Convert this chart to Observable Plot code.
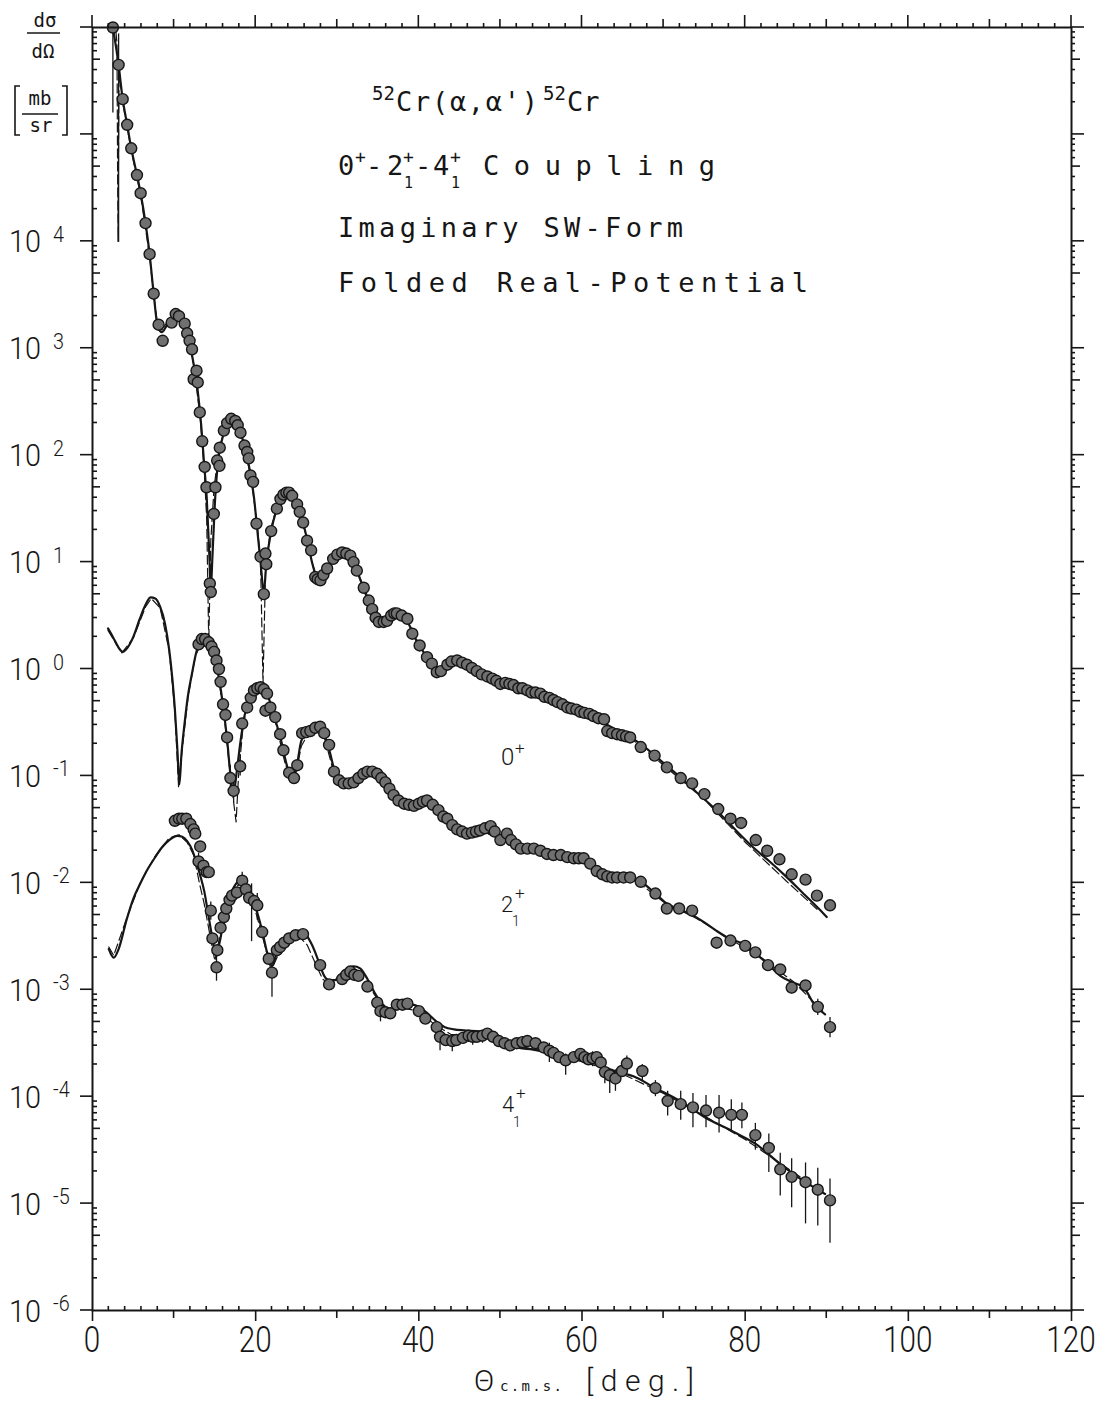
<!DOCTYPE html>
<html><head><meta charset="utf-8">
<script src="https://cdn.jsdelivr.net/npm/d3@7"></script>
<script src="https://cdn.jsdelivr.net/npm/@observablehq/plot@0.6"></script>
<style>body{margin:0;background:#fff}</style>
</head><body><div id="chart"></div>
<script>
// ---------- tick labels ----------
const xTickLabels = [0, 20, 40, 60, 80, 100, 120];
const yLabelExps = [-6, -5, -4, -3, -2, -1, 0, 1, 2, 3, 4];

// ---------- experimental points: [theta, log10(dσ/dΩ)] ----------
const pts0 = [[2.5,6.0],[3.2,5.65],[3.7,5.33],[4.25,5.09],[4.75,4.87],[5.45,4.62],[5.9,4.45],[6.5,4.17],[7.0,3.88],[7.5,3.51],[8.1,3.22],[8.6,3.07],[9.7,3.24],[10.2,3.32],[10.6,3.30],[11.3,3.23],[11.6,3.14],[11.9,3.07],[12.2,2.99],[12.4,2.71],[12.75,2.79],[12.9,2.68],[13.15,2.40],[13.45,2.13],[13.75,1.89],[13.97,1.70],[14.38,0.80],[14.5,0.72],[14.87,1.45],[15.07,1.70],[15.28,1.95],[15.56,1.90],[15.6,2.07],[16.1,2.23],[16.5,2.30],[17.0,2.34],[17.5,2.32],[17.8,2.28],[18.14,2.21],[18.63,2.09],[18.96,2.03],[19.15,1.97],[19.36,1.81],[19.68,1.75],[20.1,1.36],[20.6,1.05],[21.0,0.70],[21.2,1.08],[21.3,0.98],[21.9,1.29],[22.6,1.50],[23.04,1.59],[23.4,1.63],[23.77,1.65],[24.1,1.65],[24.47,1.62],[25.08,1.54],[25.4,1.47],[25.82,1.37],[26.3,1.20],[26.8,1.11],[27.3,0.86],[27.6,0.84],[27.94,0.83],[28.3,0.88],[28.76,0.94],[29.5,1.03],[30.0,1.07],[30.6,1.09],[31.1,1.08],[31.6,1.06],[32.0,1.0],[32.4,0.92],[33.25,0.76],[33.86,0.64],[34.28,0.56],[34.7,0.48],[35.1,0.44],[35.7,0.44],[36.1,0.45],[36.6,0.50],[37.0,0.52],[37.3,0.52],[37.9,0.50],[38.6,0.47],[39.2,0.33],[40.1,0.22],[41.0,0.11],[41.6,0.05],[42.2,-0.03],[42.7,-0.02],[43.5,0.04],[44.0,0.07],[44.7,0.08],[45.3,0.06],[45.9,0.04],[46.5,0.01],[47.1,-0.02],[47.7,-0.05],[48.4,-0.07],[49.0,-0.09],[49.5,-0.11],[50.0,-0.14],[50.6,-0.13],[51.1,-0.14],[51.6,-0.15],[52.2,-0.18],[52.7,-0.18],[53.3,-0.20],[53.8,-0.22],[54.3,-0.22],[54.9,-0.23],[55.4,-0.26],[56.0,-0.27],[56.5,-0.29],[57.0,-0.31],[57.6,-0.33],[58.2,-0.36],[58.7,-0.37],[59.3,-0.38],[59.8,-0.40],[60.3,-0.41],[60.9,-0.42],[61.4,-0.44],[62.0,-0.46],[62.7,-0.47],[63.1,-0.58],[63.7,-0.60],[64.3,-0.61],[64.9,-0.62],[65.4,-0.63],[65.9,-0.64],[67.2,-0.73],[68.9,-0.81],[70.4,-0.92],[72.1,-1.02],[73.5,-1.07],[75.0,-1.17],[76.7,-1.31],[78.2,-1.40],[79.5,-1.44],[81.3,-1.60],[82.7,-1.70],[84.2,-1.78],[85.7,-1.92],[87.4,-1.97],[88.8,-2.12],[90.4,-2.21]];

const pts2 = [[13.0,0.23],[13.4,0.28],[13.8,0.28],[14.25,0.25],[14.6,0.21],[14.9,0.16],[15.2,0.08],[15.5,0.0],[15.7,-0.12],[16.0,-0.33],[16.3,-0.43],[16.5,-0.64],[16.9,-1.02],[17.3,-1.14],[18.1,-0.91],[18.35,-0.51],[18.96,-0.36],[19.4,-0.27],[19.8,-0.20],[20.2,-0.18],[20.6,-0.17],[21.0,-0.19],[21.4,-0.23],[21.2,-0.39],[21.8,-0.36],[22.4,-0.45],[23.0,-0.61],[23.4,-0.76],[24.1,-0.97],[24.7,-1.02],[25.1,-0.90],[25.7,-0.60],[26.2,-0.59],[26.7,-0.58],[27.3,-0.55],[27.9,-0.54],[28.4,-0.60],[29.0,-0.71],[29.6,-0.96],[30.2,-1.04],[30.8,-1.07],[31.4,-1.07],[32.0,-1.06],[32.6,-1.02],[33.2,-0.98],[33.7,-0.96],[34.3,-0.96],[34.9,-0.98],[35.4,-1.02],[35.9,-1.06],[36.4,-1.12],[36.9,-1.18],[37.5,-1.23],[38.2,-1.26],[38.8,-1.27],[39.4,-1.28],[40.0,-1.26],[40.5,-1.24],[41.0,-1.23],[41.7,-1.27],[42.4,-1.32],[43.0,-1.38],[43.5,-1.40],[44.1,-1.46],[44.7,-1.50],[45.3,-1.52],[45.9,-1.54],[46.5,-1.53],[47.0,-1.52],[47.5,-1.51],[48.1,-1.49],[48.8,-1.47],[49.3,-1.52],[50.0,-1.60],[50.8,-1.54],[51.3,-1.60],[51.9,-1.64],[52.5,-1.68],[53.3,-1.68],[54.1,-1.68],[54.9,-1.70],[55.7,-1.73],[56.5,-1.74],[57.4,-1.74],[58.2,-1.76],[59.0,-1.77],[59.6,-1.77],[60.2,-1.77],[61.0,-1.82],[61.8,-1.89],[62.5,-1.92],[63.1,-1.94],[63.7,-1.95],[64.3,-1.95],[65.1,-1.95],[65.9,-1.95],[67.2,-1.99],[69.0,-2.10],[70.4,-2.24],[71.9,-2.24],[73.5,-2.26],[76.5,-2.56],[78.2,-2.54],[80.0,-2.59],[81.25,-2.65],[82.8,-2.77],[84.3,-2.81],[85.7,-2.98],[87.4,-2.96],[88.9,-3.16],[90.4,-3.35]];

const pts4 = [[10.1,-1.42],[10.6,-1.40],[11.0,-1.40],[11.5,-1.40],[12.0,-1.45],[12.4,-1.50],[12.6,-1.54],[13.0,-1.80],[13.2,-1.66],[13.6,-1.84],[14.0,-1.90],[14.25,-1.90],[14.5,-2.26],[14.7,-2.52],[15.2,-2.79],[15.3,-2.63],[15.7,-2.42],[16.1,-2.32],[16.4,-2.24],[16.8,-2.16],[17.1,-2.12],[17.7,-2.09],[18.35,-1.98],[18.8,-2.06],[19.2,-2.14],[19.8,-2.17],[20.2,-2.21],[20.8,-2.46],[21.6,-2.71],[22.0,-2.84],[22.6,-2.63],[23.0,-2.60],[23.5,-2.56],[24.1,-2.52],[24.9,-2.49],[25.8,-2.48],[27.9,-2.77],[29.0,-2.95],[30.6,-2.90],[31.1,-2.86],[31.6,-2.83],[32.1,-2.86],[32.6,-2.87],[33.7,-2.97],[34.9,-3.12],[35.3,-3.20],[35.9,-3.21],[36.5,-3.22],[37.3,-3.14],[38.0,-3.14],[38.6,-3.13],[40.0,-3.20],[40.8,-3.27],[42.2,-3.35],[42.6,-3.44],[43.3,-3.47],[44.1,-3.48],[44.6,-3.47],[45.4,-3.45],[46.1,-3.43],[46.6,-3.44],[47.1,-3.44],[47.8,-3.43],[48.4,-3.41],[49.1,-3.44],[49.8,-3.48],[50.5,-3.50],[51.2,-3.52],[52.0,-3.50],[52.7,-3.49],[53.3,-3.48],[54.3,-3.50],[55.3,-3.54],[56.0,-3.57],[56.5,-3.59],[57.2,-3.63],[58.0,-3.66],[59.0,-3.63],[59.8,-3.60],[60.3,-3.63],[60.8,-3.65],[61.3,-3.64],[61.8,-3.63],[62.3,-3.68],[62.8,-3.77],[63.4,-3.80],[64.1,-3.83],[64.9,-3.76],[65.5,-3.69],[67.4,-3.76],[69.0,-3.92],[70.5,-4.04],[72.1,-4.07],[73.6,-4.10],[75.2,-4.13],[76.8,-4.15],[78.3,-4.17],[79.6,-4.17],[81.25,-4.36],[82.9,-4.48],[84.3,-4.68],[85.7,-4.75],[87.4,-4.80],[88.9,-4.87],[90.4,-4.97]];

// ---------- error bars: [theta, log10 low, log10 high] ----------
const err0 = [[2.5,5.2,6.0],[3.2,3.99,5.94]];
const err2 = [[16.9,-1.15,-0.9],[17.3,-1.25,-1.0],[18.1,-1.0,-0.8],[82.8,-2.82,-2.72],[85.7,-3.04,-2.92],[88.9,-3.24,-3.09],[90.4,-3.45,-3.26]];
const err4 = [[13.0,-1.9,-1.72],[14.5,-2.35,-2.18],[15.2,-2.92,-2.65],[16.8,-2.25,-2.08],[18.35,-2.05,-1.9],[19.5,-2.55,-2.01],[20.2,-2.35,-2.1],[22.0,-3.07,-2.75],[35.3,-3.3,-3.12],[42.6,-3.57,-3.38],[44.1,-3.58,-3.42],[46.6,-3.52,-3.38],[47.8,-3.5,-3.38],[52.7,-3.56,-3.44],[56.0,-3.68,-3.5],[58.0,-3.8,-3.6],[60.3,-3.7,-3.57],[61.3,-3.72,-3.58],[62.8,-3.88,-3.72],[63.4,-3.97,-3.75],[64.1,-3.95,-3.75],[65.5,-3.76,-3.62],[67.4,-3.85,-3.7],[69.0,-4.0,-3.85],[70.5,-4.18,-3.95],[72.1,-4.22,-3.95],[73.6,-4.29,-3.97],[75.2,-4.29,-3.99],[76.8,-4.34,-3.99],[78.3,-4.32,-4.03],[79.6,-4.3,-4.06],[81.25,-4.5,-4.25],[82.9,-4.71,-4.35],[84.3,-4.93,-4.53],[85.7,-5.04,-4.58],[87.4,-5.19,-4.62],[88.9,-5.21,-4.67],[90.4,-5.37,-4.77]];

// ---------- theory, solid: [theta, log10] ----------
const th0 = [[2.45,6.02],[3.2,5.65],[3.7,5.33],[4.25,5.09],[4.75,4.87],[5.45,4.62],[5.9,4.45],[6.5,4.17],[7.0,3.88],[7.5,3.51],[8.0,3.2],[8.5,3.15],[9.0,3.2],[9.7,3.28],[10.2,3.32],[10.8,3.28],[11.3,3.2],[11.9,3.05],[12.4,2.85],[12.9,2.6],[13.3,2.3],[13.7,1.9],[14.0,1.6],[14.3,1.1],[14.5,0.75],[14.7,1.05],[15.0,1.55],[15.4,1.95],[15.8,2.12],[16.3,2.25],[17.0,2.34],[17.6,2.32],[18.2,2.2],[18.7,2.07],[19.3,1.85],[19.8,1.6],[20.2,1.3],[20.6,1.0],[21.0,0.72],[21.3,0.98],[21.9,1.29],[22.6,1.5],[23.1,1.6],[23.8,1.65],[24.5,1.62],[25.1,1.53],[25.8,1.37],[26.4,1.18],[26.9,1.0],[27.4,0.87],[27.9,0.83],[28.5,0.88],[29.2,0.98],[29.9,1.06],[30.6,1.09],[31.4,1.07],[32.2,0.96],[33.0,0.8],[33.8,0.64],[34.5,0.52],[35.2,0.44],[36.0,0.45],[36.8,0.5],[37.4,0.52],[38.2,0.49],[38.9,0.4],[39.6,0.28],[40.4,0.18],[41.2,0.08],[42.0,-0.02],[42.6,-0.02],[43.4,0.04],[44.3,0.08],[45.2,0.06],[46.3,0.02],[47.5,-0.04],[48.6,-0.08],[50.0,-0.13],[51.6,-0.16],[53.3,-0.2],[55.0,-0.24],[56.5,-0.29],[58.2,-0.35],[59.8,-0.4],[61.4,-0.44],[62.6,-0.5],[64,-0.56],[66,-0.64],[68,-0.75],[70,-0.88],[72,-1.01],[74,-1.15],[77,-1.36],[79,-1.52],[81,-1.67],[83,-1.8],[85,-1.94],[87,-2.09],[89,-2.24],[90,-2.32]];

const th2 = [[1.9,0.38],[2.5,0.3],[3.2,0.2],[3.7,0.16],[4.3,0.2],[5.0,0.3],[5.8,0.47],[6.5,0.6],[7.1,0.67],[7.7,0.66],[8.3,0.58],[8.9,0.42],[9.4,0.18],[9.8,-0.1],[10.1,-0.38],[10.4,-0.75],[10.65,-1.08],[10.9,-0.8],[11.3,-0.5],[11.7,-0.25],[12.2,-0.04],[12.7,0.15],[13.2,0.26],[13.6,0.28],[14.2,0.24],[14.8,0.14],[15.3,0.0],[15.7,-0.18],[16.1,-0.4],[16.5,-0.66],[16.9,-0.98],[17.3,-1.15],[17.7,-0.95],[18.1,-0.7],[18.6,-0.45],[19.2,-0.28],[19.9,-0.19],[20.6,-0.17],[21.3,-0.22],[21.9,-0.34],[22.5,-0.5],[23.0,-0.63],[23.5,-0.8],[24.0,-0.95],[24.5,-1.03],[25.0,-0.92],[25.6,-0.67],[26.4,-0.58],[27.3,-0.54],[27.9,-0.55],[28.5,-0.63],[29.1,-0.78],[29.7,-0.96],[30.3,-1.04],[31.0,-1.07],[32.0,-1.05],[32.9,-0.99],[33.7,-0.96],[34.5,-0.97],[35.3,-1.01],[36.1,-1.08],[36.9,-1.18],[37.7,-1.25],[38.7,-1.28],[39.7,-1.27],[40.6,-1.24],[41.5,-1.26],[42.4,-1.32],[43.3,-1.4],[44.3,-1.48],[45.3,-1.52],[46.5,-1.53],[47.7,-1.53],[49,-1.54],[50.5,-1.58],[52.5,-1.65],[54.5,-1.69],[56.5,-1.72],[58.5,-1.75],[60.5,-1.8],[62,-1.87],[63.5,-1.93],[65.5,-1.95],[67.2,-1.99],[69,-2.1],[70.5,-2.2],[72,-2.25],[73.5,-2.3],[75,-2.37],[76.5,-2.45],[78,-2.52],[80,-2.58],[81.25,-2.66],[82.8,-2.76],[84.3,-2.87],[85.8,-2.93],[87.2,-2.98],[88.4,-3.13],[89.8,-3.23]];

const th4 = [[2.0,-2.62],[2.6,-2.7],[3.2,-2.62],[4.2,-2.34],[5.0,-2.15],[5.9,-2.0],[6.7,-1.88],[7.6,-1.77],[8.5,-1.67],[9.4,-1.6],[10.4,-1.56],[11.0,-1.57],[11.6,-1.61],[12.2,-1.69],[12.7,-1.8],[13.2,-1.93],[13.7,-2.08],[14.2,-2.3],[14.7,-2.52],[15.2,-2.68],[15.6,-2.55],[16.1,-2.35],[16.7,-2.15],[17.4,-2.03],[18.2,-1.98],[18.9,-2.03],[19.6,-2.15],[20.2,-2.28],[20.8,-2.45],[21.4,-2.65],[22.0,-2.78],[22.6,-2.65],[23.2,-2.55],[24.2,-2.48],[25.3,-2.45],[26.1,-2.48],[26.9,-2.58],[27.7,-2.73],[28.4,-2.87],[29.0,-2.91],[29.7,-2.91],[30.4,-2.87],[31.2,-2.81],[32.0,-2.78],[32.8,-2.8],[33.7,-2.9],[34.6,-3.03],[35.5,-3.13],[36.4,-3.18],[37.2,-3.18],[38.2,-3.15],[39.2,-3.14],[40.2,-3.17],[41.2,-3.23],[42.2,-3.3],[43.2,-3.35],[44.3,-3.37],[45.5,-3.38],[47.5,-3.39],[50.0,-3.48],[52,-3.54],[54,-3.56],[56.5,-3.6],[59,-3.65],[61.5,-3.69],[64,-3.76],[66.3,-3.81],[69,-3.92],[72,-4.04],[75,-4.19],[78.6,-4.33],[81.25,-4.44],[84.3,-4.63],[87.2,-4.79],[89.8,-4.91]];

// ---------- theory, dashed: [theta, log10] ----------
const da0 = [[2.6,6.2],[3.0,5.85],[3.12,4.0],[3.25,5.6],[3.7,5.3],[4.75,4.85],[5.9,4.43],[7.0,3.86],[7.5,3.5],[8.0,3.2],[8.5,3.17],[9.2,3.25],[10.0,3.3],[10.8,3.27],[11.6,3.15],[12.4,2.85],[13.2,2.35],[13.7,1.85],[14.0,1.4],[14.25,0.25],[14.5,1.2],[14.9,1.7],[15.5,2.05],[16.3,2.27],[17.0,2.35],[17.8,2.3],[18.7,2.06],[19.5,1.75],[20.2,1.35],[20.6,1.0],[20.9,-0.14],[21.2,0.9],[21.8,1.3],[22.6,1.52],[23.8,1.66],[25.0,1.55],[26.0,1.3],[27.0,0.97],[27.8,0.82],[28.6,0.9],[29.8,1.05],[30.8,1.1],[32.0,1.0],[33.5,0.72],[35.0,0.45],[36.2,0.46],[37.4,0.53],[38.5,0.47],[40.0,0.23],[41.5,0.04],[42.5,-0.01],[44.0,0.07],[45.5,0.05],[48,-0.06],[52,-0.17],[56,-0.27],[60,-0.4],[63,-0.52],[66,-0.65],[70,-0.9],[75,-1.22],[80,-1.62],[85,-1.98],[89,-2.26]];

const da2 = [[1.9,0.36],[3.6,0.15],[5.0,0.29],[6.5,0.58],[7.2,0.66],[8.3,0.57],[9.4,0.17],[10.1,-0.4],[10.55,-1.1],[11.0,-0.75],[11.7,-0.27],[12.6,0.12],[13.5,0.27],[14.5,0.2],[15.4,-0.05],[16.2,-0.48],[16.9,-1.0],[17.6,-1.43],[17.9,-1.0],[18.5,-0.5],[19.3,-0.27],[20.5,-0.16],[21.5,-0.24],[22.5,-0.52],[23.6,-0.88],[24.4,-1.06],[25.0,-0.95],[25.6,-0.72],[26.5,-0.6],[27.5,-0.56],[28.5,-0.66],[29.5,-0.95],[30.5,-1.06],[32.0,-1.04],[33.8,-0.97],[35.5,-1.04],[37.5,-1.24],[39.5,-1.27],[41.0,-1.24],[43,-1.38],[45,-1.51],[48,-1.53],[52,-1.64],[56,-1.72],[60,-1.8],[64,-1.94],[67,-2.0],[70,-2.18],[74,-2.33],[78,-2.52],[82,-2.7],[86,-2.93],[89.5,-3.2]];

const da4 = [[2.0,-2.6],[2.6,-2.68],[4.2,-2.33],[5.9,-1.99],[7.6,-1.76],[9.4,-1.58],[10.6,-1.55],[11.6,-1.62],[12.4,-1.74],[13.1,-2.0],[13.7,-2.2],[14.3,-2.45],[15.0,-2.73],[15.6,-2.5],[16.4,-2.25],[17.3,-2.06],[18.2,-2.0],[19.2,-2.1],[20.1,-2.3],[21.0,-2.55],[21.9,-2.82],[22.6,-2.7],[23.3,-2.58],[24.3,-2.52],[25.3,-2.5],[26.3,-2.58],[27.3,-2.75],[28.2,-2.9],[29.0,-2.94],[30.0,-2.9],[31.0,-2.84],[32.0,-2.82],[33.0,-2.88],[34.0,-2.98],[35.2,-3.12],[36.5,-3.2],[38.0,-3.17],[40.0,-3.2],[42,-3.33],[44,-3.42],[47,-3.42],[50,-3.49],[55,-3.57],[60,-3.67],[65,-3.79],[70,-3.97],[75,-4.18],[80,-4.4],[85,-4.66],[89.6,-4.9]];

// ---------- build tables ----------
const toRows = (arr, s) => arr.map(([x, l]) => ({s, x, y: Math.pow(10, l)}));
const toErr = (arr, s) => arr.map(([x, lo, hi]) => ({s, x, y1: Math.pow(10, lo), y2: Math.pow(10, hi)}));
const points = [...toRows(pts0,"0+"), ...toRows(pts2,"2+"), ...toRows(pts4,"4+")];
const solid = [...toRows(th0,"0+"), ...toRows(th2,"2+"), ...toRows(th4,"4+")];
const dashed = [...toRows(da0,"0+"), ...toRows(da2,"2+"), ...toRows(da4,"4+")];
const errs = [...toErr(err0,"0+"), ...toErr(err2,"2+"), ...toErr(err4,"4+")];

const INK = "#161616";
const NUM = "Roboto,'DejaVu Sans',sans-serif";
const MONO = "'DejaVu Sans Mono',monospace";

const plot = Plot.plot({
  width: 1117, height: 1403,
  marginLeft: 92, marginRight: 46, marginTop: 27, marginBottom: 93,
  style: {background: "#fff", overflow: "visible"},
  x: {domain: [0, 120], axis: null},
  y: {type: "log", domain: [1e-6, 1e6], axis: null},
  marks: [
    Plot.line(dashed, {x: "x", y: "y", z: "s", stroke: INK, strokeWidth: 1.2, strokeDasharray: "9,4", clip: true}),
    Plot.line(solid, {x: "x", y: "y", z: "s", stroke: INK, strokeWidth: 2.2, curve: "monotone-x", clip: true}),
    Plot.ruleX(errs, {x: "x", y1: "y1", y2: "y2", stroke: INK, strokeWidth: 1.3, clip: true}),
    Plot.dot(points, {x: "x", y: "y", r: 5.5, fill: "#707070", stroke: INK, strokeWidth: 1.4}),
    Plot.frame({stroke: INK, strokeWidth: 2}),
    Plot.axisX(xTickLabels, {anchor: "bottom", tickSize: 11, tickFormat: () => "", stroke: INK, strokeWidth: 1.6, label: null})
  ]
});

const svg = d3.select(plot);
const sx = plot.scale("x"), sy = plot.scale("y");
const X = v => sx.apply(v), Y = v => sy.apply(v);
const xL = X(0), xR = X(120), yT = Y(1e6), yB = Y(1e-6);

// ---------- ticks ----------
const tg = svg.append("g").attr("stroke", INK).attr("stroke-width", 1.6);
const seg = (x1, y1, x2, y2) => tg.append("line").attr("x1", x1).attr("y1", y1).attr("x2", x2).attr("y2", y2);
for (let v = 0; v <= 120; v += 2) {
  const px = X(v);
  if (v % 20 === 0) { seg(px, yT, px, yT - 12); }
  else if (v % 10 === 0) { seg(px, yT, px, yT - 8); seg(px, yB, px, yB + 8); }
  else { seg(px, yT, px, yT - 4); seg(px, yB, px, yB - 4); }
}
for (let k = -6; k <= 6; k++) {
  for (let m = 1; m <= 9; m++) {
    const v = m * Math.pow(10, k);
    if (v > 1e6 * 1.0001) continue;
    const py = Y(v);
    if (m === 1) { seg(xL - 12, py, xL, py); seg(xR, py, xR + 13, py); }
    else if (m === 5) { seg(xL, py, xL + 8, py); seg(xR, py, xR + 9, py); }
    else { seg(xL, py, xL + 5, py); seg(xR, py, xR + 4, py); }
  }
}

// ---------- text helpers ----------
function T(x, y, s, size, family, o = {}) {
  const t = svg.append("text").attr("font-size", size)
    .attr("font-family", family).attr("fill", INK)
    .attr("text-anchor", o.anchor || "start").text(s);
  if (o.weight) t.attr("font-weight", o.weight);
  if (o.sx) t.attr("transform", `translate(${x},${y}) scale(${o.sx},1)`);
  else t.attr("x", x).attr("y", y);
  if (o.len) t.attr("textLength", o.len).attr("lengthAdjust", "spacing");
  return t;
}

// x tick labels
for (const v of xTickLabels) T(X(v), yB + 42, String(v), 37, NUM, {anchor: "middle", sx: 0.8, weight: 300});

// y tick labels
for (const k of yLabelExps) {
  const py = Y(Math.pow(10, k));
  T(9, py + 11.5, "10", 32, NUM, {sx: 0.9, weight: 300});
  T(53, py + 1, k < 0 ? "-" + (-k) : String(k), 22, NUM, {sx: 0.9, weight: 300});
}

// y axis unit label
T(45, 27, "dσ", 19, MONO, {anchor: "middle"});
tg.append("line").attr("x1", 27).attr("x2", 60).attr("y1", 33).attr("y2", 33);
T(43, 58, "dΩ", 19, MONO, {anchor: "middle"});
T(40, 105, "mb", 19, MONO, {anchor: "middle"});
tg.append("line").attr("x1", 22).attr("x2", 58).attr("y1", 114).attr("y2", 114);
T(41, 132, "sr", 19, MONO, {anchor: "middle"});
tg.append("path").attr("fill", "none").attr("d", "M20,86 H15 V135 H20");
tg.append("path").attr("fill", "none").attr("d", "M62,86 H67 V135 H62");

// x axis title
T(474, 1391, "Θ", 30, NUM, {weight: 300});
T(500, 1391, "c.m.s.", 14, MONO, {len: 62});
T(586, 1391, "[deg.]", 30, NUM, {len: 108, weight: 300});

// annotation block
const AF = 27;
T(372, 100, "52", 19, MONO);
T(396, 111, "Cr(α,α')", AF, MONO, {len: 142});
T(543, 100, "52", 19, MONO);
T(567, 111, "Cr", AF, MONO);

T(338, 175, "0", AF, MONO);
T(355, 163, "+", 18, MONO);
T(366, 175, "-", AF, MONO);
T(387, 175, "2", AF, MONO);
T(403, 163, "+", 18, MONO);
T(404, 188, "1", 15, MONO);
T(415, 175, "-", AF, MONO);
T(433, 175, "4", AF, MONO);
T(450, 163, "+", 18, MONO);
T(451, 188, "1", 15, MONO);
T(483, 175, "Coupling", AF, MONO, {len: 232});

T(338, 237, "Imaginary SW-Form", AF, MONO, {len: 345});
T(338, 292, "Folded Real-Potential", AF, MONO, {len: 470});

// state labels
T(501, 765, "0", 24, NUM, {weight: 300});
T(515, 754, "+", 17, NUM, {weight: 300});
T(501, 912, "2", 22, NUM, {weight: 300});
T(515, 899, "+", 17, NUM, {weight: 300});
T(512, 926, "1", 14, NUM, {weight: 300});
T(502, 1112, "4", 22, NUM, {weight: 300});
T(516, 1099, "+", 17, NUM, {weight: 300});
T(513, 1127, "1", 14, NUM, {weight: 300});

document.getElementById("chart").appendChild(plot);
</script>
</body></html>
